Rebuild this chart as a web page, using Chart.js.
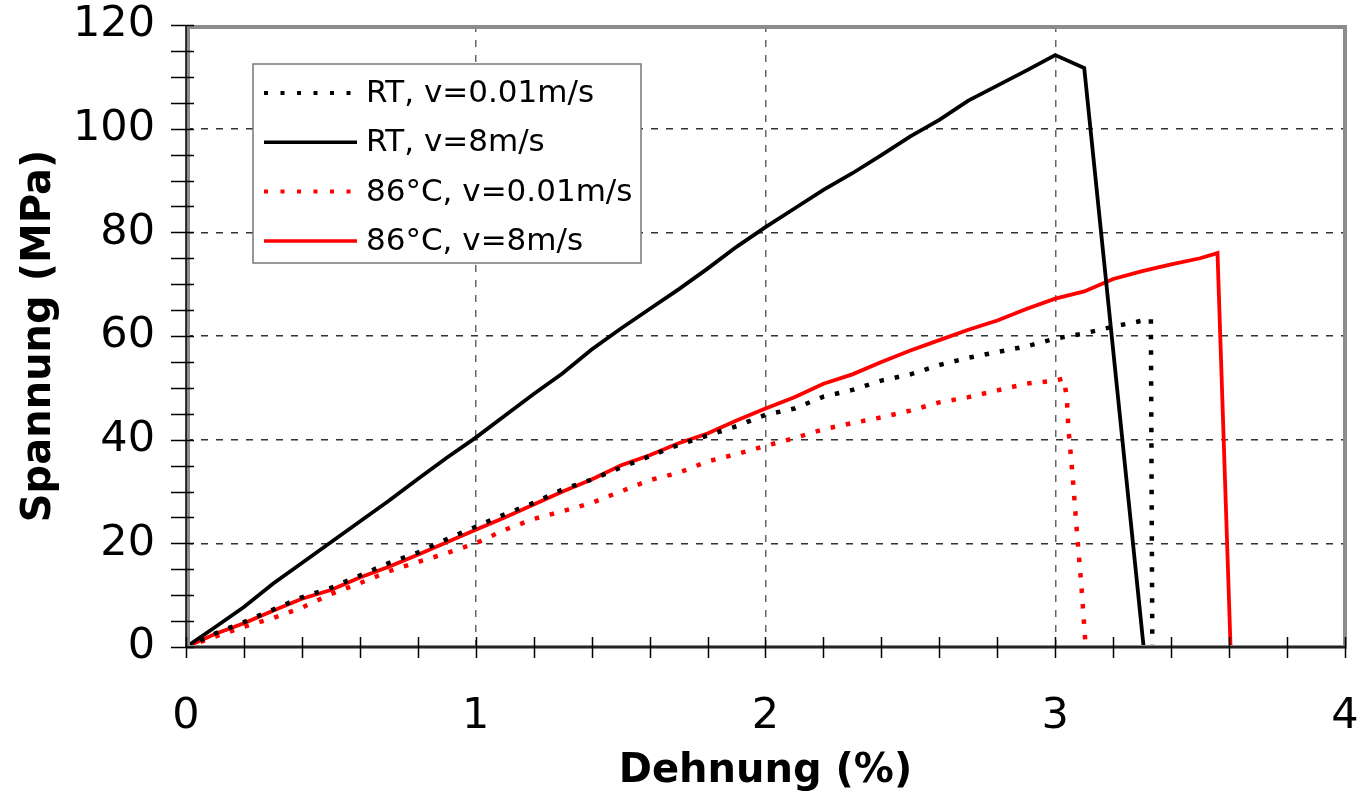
<!DOCTYPE html>
<html>
<head>
<meta charset="utf-8">
<script src="https://cdn.jsdelivr.net/npm/chart.js@4/dist/chart.umd.min.js"></script>
<style>
  html, body { margin: 0; padding: 0; background: #fff; }
  #wrap { width: 1360px; height: 801px; }
</style>
</head>
<body>
<div id="wrap"><canvas id="chart" width="1360" height="801"></canvas></div>
<script>
// strain in %, stress in MPa
const rtSlowX = [0, 0.1, 0.2, 0.3, 0.4, 0.5, 0.6, 0.7, 0.8, 0.9, 1.0, 1.1, 1.2, 1.3, 1.4, 1.5, 1.6, 1.7, 1.8, 1.9, 2.0, 2.1, 2.2, 2.3, 2.4, 2.5, 2.6, 2.7, 2.8, 2.9, 3.0, 3.1, 3.2, 3.33, 3.335];
const rtSlowY = [0, 2.6, 4.8, 7.2, 9.6, 11.4, 13.8, 16.2, 18.2, 20.8, 23.2, 25.6, 27.8, 30.4, 32.3, 34.6, 36.8, 39.0, 40.8, 42.6, 44.8, 46.0, 48.3, 49.6, 51.4, 52.6, 54.4, 55.8, 56.9, 58.0, 59.5, 60.5, 61.8, 63.3, 0];

const rtFastX = [0, 0.1, 0.2, 0.3, 0.4, 0.5, 0.6, 0.7, 0.8, 0.9, 1.0, 1.1, 1.2, 1.3, 1.4, 1.5, 1.6, 1.7, 1.8, 1.9, 2.0, 2.1, 2.2, 2.3, 2.4, 2.5, 2.6, 2.7, 2.8, 2.9, 3.0, 3.1, 3.305];
const rtFastY = [0, 3.8, 7.7, 12.2, 16.2, 20.2, 24.2, 28.2, 32.4, 36.5, 40.4, 44.6, 48.8, 52.8, 57.4, 61.4, 65.2, 69.0, 73.0, 77.2, 81.0, 84.6, 88.2, 91.4, 94.9, 98.5, 101.7, 105.4, 108.3, 111.2, 114.2, 111.7, 0];

const hotSlowX = [0, 0.1, 0.2, 0.3, 0.4, 0.5, 0.6, 0.7, 0.8, 0.9, 1.0, 1.1, 1.2, 1.3, 1.4, 1.5, 1.6, 1.7, 1.8, 1.9, 2.0, 2.1, 2.2, 2.3, 2.4, 2.5, 2.6, 2.7, 2.8, 2.9, 3.0, 3.03, 3.04, 3.045, 3.06, 3.075, 3.09, 3.105];
const hotSlowY = [0, 2.0, 3.9, 5.6, 7.6, 10.2, 12.3, 14.6, 16.4, 18.1, 20.0, 22.6, 24.7, 26.2, 27.8, 30.0, 32.2, 33.6, 35.8, 37.2, 38.8, 40.3, 42.0, 43.2, 44.3, 45.6, 47.2, 48.2, 49.5, 50.8, 51.4, 51.8, 48.0, 42.5, 33.0, 22.0, 12.0, 0];

const hotFastX = [0, 0.1, 0.2, 0.3, 0.4, 0.5, 0.6, 0.7, 0.8, 0.9, 1.0, 1.1, 1.2, 1.3, 1.4, 1.5, 1.6, 1.7, 1.8, 1.9, 2.0, 2.1, 2.2, 2.3, 2.4, 2.5, 2.6, 2.7, 2.8, 2.9, 3.0, 3.1, 3.2, 3.3, 3.4, 3.5, 3.56, 3.605];
const hotFastY = [0, 2.5, 4.6, 7.0, 9.3, 11.0, 13.4, 15.5, 17.8, 20.2, 22.6, 25.0, 27.5, 30.0, 32.3, 35.0, 37.0, 39.3, 41.2, 43.7, 46.0, 48.2, 50.8, 52.6, 55.0, 57.2, 59.2, 61.2, 63.0, 65.2, 67.2, 68.6, 71.0, 72.5, 73.8, 75.0, 76.0, 0];

const seriesLabels = ['RT, v=0.01m/s', 'RT, v=8m/s', '86°C, v=0.01m/s', '86°C, v=8m/s'];
const xTitle = 'Dehnung (%)';
const yTitle = 'Spannung (MPa)';

function pts(xs, ys) {
    return xs.map((x, i) => ({x: x, y: ys[i]}));
}

const dotted = [4.5, 11];
const datasets = [
    {label: seriesLabels[0], data: pts(rtSlowX, rtSlowY), borderColor: '#000', borderWidth: 4.5, borderDash: dotted},
    {label: seriesLabels[1], data: pts(rtFastX, rtFastY), borderColor: '#000', borderWidth: 3.8},
    {label: seriesLabels[2], data: pts(hotSlowX, hotSlowY), borderColor: '#ff0000', borderWidth: 4.5, borderDash: dotted},
    {label: seriesLabels[3], data: pts(hotFastX, hotFastY), borderColor: '#ff0000', borderWidth: 3.8}
];
datasets.forEach(d => { d.pointRadius = 0; d.tension = 0; d.borderCapStyle = 'butt'; d.fill = false; });

// frame, crossing tick marks, legend box
const framePlugin = {
    id: 'frame',
    afterDatasetsDraw(chart) {
        const ctx = chart.ctx, a = chart.chartArea;
        const xs = chart.scales.x, ys = chart.scales.y;
        ctx.save();
        // grey frame
        ctx.strokeStyle = '#8c8c8c';
        ctx.lineWidth = 4;
        ctx.strokeRect(a.left + 2, a.top + 2, a.right - a.left - 2, a.bottom - a.top - 2);
        ctx.strokeStyle = '#000';
        ctx.lineWidth = 1.5;
        ctx.beginPath();
        ctx.moveTo(a.left, a.top); ctx.lineTo(a.left, a.bottom); ctx.lineTo(a.right, a.bottom);
        ctx.stroke();
        // ticks
        ctx.lineWidth = 1.5;
        ctx.beginPath();
        for (let v = 0; v <= 4.0001; v += 0.2) {
            const px = Math.round(xs.getPixelForValue(v)) + 0.5;
            ctx.moveTo(px, a.bottom - 10); ctx.lineTo(px, a.bottom + 11);
        }
        for (let v = 0; v <= 120; v += 5) {
            const py = Math.round(ys.getPixelForValue(v)) + 0.5;
            ctx.moveTo(a.left - 15, py); ctx.lineTo(a.left + 8, py);
        }
        ctx.stroke();
        ctx.restore();
    },
    afterDraw(chart) {
        const ctx = chart.ctx, a = chart.chartArea;
        const bx = a.left + 67, by = a.top + 39, bw = 388, bh = 199;
        ctx.save();
        ctx.fillStyle = '#fff';
        ctx.fillRect(bx, by, bw, bh);
        ctx.strokeStyle = '#777';
        ctx.lineWidth = 1.5;
        ctx.strokeRect(bx, by, bw, bh);
        ctx.font = '31px "DejaVu Sans"';
        ctx.textBaseline = 'middle';
        ctx.fillStyle = '#000';
        chart.data.datasets.forEach((d, i) => {
            const y = by + 29 + i * 49.3;
            ctx.strokeStyle = d.borderColor;
            ctx.lineWidth = d.borderDash ? 4 : 3.5;
            ctx.setLineDash(d.borderDash ? [4, 12.5] : []);
            ctx.beginPath();
            ctx.moveTo(bx + 11, y); ctx.lineTo(bx + 104, y);
            ctx.stroke();
            ctx.setLineDash([]);
            ctx.fillText(d.label, bx + 113, y + 1);
        });
        ctx.restore();
    }
};

const tickFont = {family: '"DejaVu Sans"', size: 43};
const titleFont = {family: '"DejaVu Sans"', size: 40, weight: 'bold'};

new Chart(document.getElementById('chart'), {
    type: 'line',
    data: {datasets: datasets},
    options: {
        responsive: false,
        animation: false,
        events: [],
        layout: {padding: {top: 25, right: 15, left: 0, bottom: 0}},
        plugins: {legend: {display: false}, tooltip: {enabled: false}},
        scales: {
            x: {
                type: 'linear', min: 0, max: 4,
                afterFit(s) { s.height = 154; s.paddingLeft = 0; s.paddingRight = 0; },
                ticks: {
                    stepSize: 0.2, autoSkip: false, maxRotation: 0, padding: 44,
                    color: '#000', font: tickFont,
                    callback: v => Math.abs(v - Math.round(v)) < 1e-6 ? String(Math.round(v)) : ''
                },
                grid: {
                    drawTicks: false, lineWidth: 1.5,
                    color: c => {
                        const v = c.tick ? c.tick.value : 0;
                        return (Math.abs(v - Math.round(v)) < 1e-6 && v > 0.5 && v < 3.5) ? '#666' : 'rgba(0,0,0,0)';
                    }
                },
                border: {display: false, dash: [7, 8]},
                title: {display: true, text: xTitle, color: '#000', font: titleFont, padding: {top: 0, bottom: 5}}
            },
            y: {
                min: 0, max: 120,
                afterFit(s) { s.width = 186; s.paddingTop = 0; s.paddingBottom = 0; },
                ticks: {
                    stepSize: 5, autoSkip: false, padding: 31,
                    color: '#000', font: tickFont,
                    callback: v => v % 20 === 0 ? String(v) : ''
                },
                grid: {
                    drawTicks: false, lineWidth: 1.5,
                    color: c => {
                        const v = c.tick ? c.tick.value : 0;
                        return (v % 20 === 0 && v > 0 && v < 120) ? '#333' : 'rgba(0,0,0,0)';
                    }
                },
                border: {display: false, dash: [7, 8]},
                title: {display: true, text: yTitle, color: '#000', font: titleFont, padding: {top: 16, bottom: 0}}
            }
        }
    },
    plugins: [framePlugin]
});
</script>
</body>
</html>
